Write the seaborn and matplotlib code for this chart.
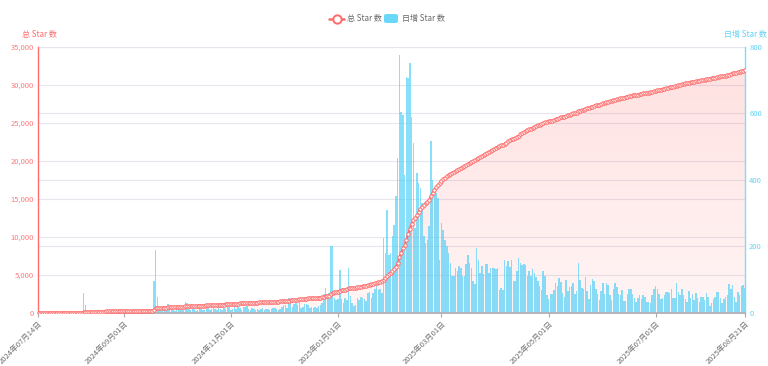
import numpy as np
import pandas as pd
import matplotlib
matplotlib.use("Agg")
import matplotlib.pyplot as plt
import seaborn as sns
from matplotlib.patches import Polygon, FancyBboxPatch
from matplotlib.lines import Line2D
from matplotlib.ticker import FixedLocator, FuncFormatter

# ---------------- data ----------------
start_date = "2024-07-14"

daily_stars = [
    # 2024-07-14 .. 2024-08-08
    0, 1, 0, 1, 2, 1, 0, 1, 1, 2, 1, 0, 1, 2, 1, 1, 0, 1, 2, 1, 1, 0, 2, 1, 1, 2,
    58, 24,
    6, 4, 3, 5, 4, 6, 3, 4, 5, 3, 4, 6, 5, 3, 4, 4, 5, 6, 3, 4,
    5, 4, 3, 6, 5, 4, 3, 5, 4, 6, 4, 3, 5, 4, 6, 5, 8, 12,
    96, 189, 48,
    8, 6, 10, 12, 9, 27, 20, 11, 8, 6, 9, 12, 10, 7, 9, 33, 30, 12, 8, 15,
    10, 6, 9, 14, 11, 8, 7, 12, 16, 9, 10, 13,
    12, 9, 14, 10, 8, 15, 11, 23, 18, 9,
    12, 16, 10, 23, 14, 9, 18, 17, 19, 11,
    8, 13, 10, 9, 12, 7, 10, 14, 9, 11,
    10, 8, 12, 13, 14, 12, 9, 11, 16, 23,
    22, 15, 45, 42, 18, 25, 30, 22, 30, 14,
    17, 26, 27, 24, 15, 16, 13, 18, 14, 20,
    23, 28, 55, 73, 48, 60, 200, 200, 43, 38, 42,
    128, 40, 30, 45, 38, 133, 50, 30, 20, 22,
    45, 38, 48, 43, 40, 35, 58, 63, 45, 60, 72, 80, 68,
    70, 60, 225, 180, 310, 175, 180, 230, 265, 350,
    465, 775, 605, 595, 415, 710, 705, 750, 590, 510,
    255, 420, 390, 375, 330, 230, 210, 220, 260, 515,
    400, 375, 360, 345, 160, 270, 250, 220, 200, 180,
    150, 110, 110, 135, 125, 140, 135, 110, 110, 145,
    175, 150, 135, 95, 85, 195, 160, 120, 140, 115,
    145, 145, 120, 135, 135, 135, 131, 135, 68,
    75, 68, 160, 140, 155, 138, 160, 95, 95, 126,
    165, 148, 142, 145, 143, 110, 125, 110, 130, 120,
    106, 96, 80, 68, 126, 110, 53,
    41, 56, 55, 68, 88, 80, 103, 93, 58, 46,
    98, 66, 76, 80, 88, 56, 66, 148, 98, 73,
    70, 106, 66, 41, 83, 100, 95, 70, 56, 38,
    66, 88, 56, 90, 83, 53, 38, 70, 88, 76,
    56, 53, 68, 36, 36, 56, 70, 70, 56, 43,
    33, 43, 53, 40, 53, 46, 33, 33, 30, 53,
    70, 80, 70, 56, 40, 43, 53, 61, 63, 60,
    70, 43, 43, 90, 63, 53, 70, 53, 40, 33,
    66, 43, 56, 38, 60, 43, 33, 46, 48, 38,
    58, 46, 20, 30, 40, 48, 63, 63, 43, 30,
    40, 48, 53, 86, 70, 83, 48, 33, 63, 53,
    80, 83, 75,
]

tick_dates = ["2024-07-14", "2024-09-01", "2024-11-01", "2025-01-01",
              "2025-03-01", "2025-05-01", "2025-07-01", "2025-08-21"]
total_ticks = [0, 5000, 10000, 15000, 20000, 25000, 30000, 35000]
daily_ticks = [0, 200, 400, 600, 800]

series_total = "总 Star 数"
series_daily = "日增 Star 数"

# ---------------- frame ----------------
dates = pd.date_range(start_date, periods=len(daily_stars), freq="D")
df = pd.DataFrame({"date": dates, "day": np.arange(len(daily_stars)),
                   "daily": daily_stars})
df["total"] = df["daily"].cumsum()

RED = "#ff6b6b"
CYAN = "#4fd0f7"
GRID = "#e6e6ee"

sns.set_theme(style="white")
plt.rcParams["font.family"] = ["Noto Sans CJK SC", "DejaVu Sans"]
plt.rcParams["axes.unicode_minus"] = False

W, H = 768, 366
fig = plt.figure(figsize=(W / 100, H / 100), dpi=100)
x0, x1, ytop, ybot = 38, 745, 46.7, 312.7
ax = fig.add_axes([x0 / W, 1 - ybot / H, (x1 - x0) / W, (ybot - ytop) / H])
ax2 = ax.twinx()

tmax = total_ticks[-1]
dmax = daily_ticks[-1]
scale = dmax / tmax
last = df["day"].iloc[-1]

# gridlines (both axes) on the back axes
for v in total_ticks[1:]:
    ax2.axhline(v * scale, color=GRID, lw=0.8, zorder=0)
for v in daily_ticks[1:]:
    ax2.axhline(v, color=GRID, lw=0.8, zorder=0)

# gradient area under the total line (drawn in ax2 units)
verts = [(0, 0)] + list(zip(df["day"], df["total"] * scale)) + [(last, 0)]
poly = Polygon(verts, closed=True, facecolor="none", edgecolor="none",
               transform=ax2.transData)
ax2.add_patch(poly)
grad = np.zeros((256, 1, 4))
grad[..., 0], grad[..., 1], grad[..., 2] = 1.0, 0.42, 0.42
grad[:, 0, 3] = np.linspace(0.2, 0.07, 256)
im = ax2.imshow(grad, extent=[0, last, 0, df["total"].max() * scale],
                aspect="auto", origin="upper", zorder=1, interpolation="bilinear")
im.set_clip_path(poly)

# daily bars
sns.barplot(data=df, x="day", y="daily", ax=ax2, native_scale=True,
            color=CYAN, alpha=0.68, width=0.86, saturation=1,
            errorbar=None, linewidth=0, zorder=2)

# total line
sns.lineplot(data=df, x="day", y="total", ax=ax, color=RED, lw=1.4,
             marker="o", markersize=2.5, markerfacecolor="white",
             markeredgecolor=RED, markeredgewidth=0.7, estimator=None,
             zorder=3)

ax.set_zorder(ax2.get_zorder() + 1)
ax.patch.set_visible(False)

for a in (ax, ax2):
    a.set_xlim(0, last)
    a.set_xlabel("")
    a.set_ylabel("")
ax.set_ylim(0, tmax)
ax2.set_ylim(0, dmax)

# y axes
ax.yaxis.set_major_locator(FixedLocator(total_ticks))
ax.yaxis.set_major_formatter(FuncFormatter(lambda v, p: f"{int(v):,}"))
ax.tick_params(axis="y", colors="#ff7a7a", labelsize=5.5, length=0, pad=3)
ax2.yaxis.set_major_locator(FixedLocator(daily_ticks))
ax2.tick_params(axis="y", colors="#62d3f5", labelsize=5.5, length=0, pad=3)

# x axis
tick_pos = [(pd.Timestamp(d) - pd.Timestamp(start_date)).days for d in tick_dates]
tick_lab = [pd.Timestamp(d).strftime("%Y年%m月%d日") for d in tick_dates]
ax.set_xticks(tick_pos)
ax.set_xticklabels(tick_lab, rotation=45, ha="right", va="top",
                   rotation_mode="anchor", color="#6e6e6e", fontsize=5.5)
ax.tick_params(axis="x", length=3, width=0.8, color="#aaaaaa", pad=2,
               bottom=True)
ax2.tick_params(axis="x", bottom=False, labelbottom=False)

for a in (ax, ax2):
    a.spines["top"].set_visible(False)
    a.spines["bottom"].set_color("#b3b3bb")
    a.spines["bottom"].set_linewidth(1.2)
ax.spines["left"].set_color(RED)
ax.spines["left"].set_linewidth(1.0)
ax.spines["right"].set_visible(False)
ax2.spines["left"].set_visible(False)
ax2.spines["right"].set_color("#7fdcf7")
ax2.spines["right"].set_linewidth(1.0)

# axis names
fig.text(39 / W, 1 - 34 / H, series_total, color=RED, fontsize=5.8,
         ha="center", va="center")
fig.text(745 / W, 1 - 34 / H, series_daily, color="#62d3f5", fontsize=5.8,
         ha="center", va="center")

# legend (manual)
ly = 1 - 18.5 / H
fig.add_artist(Line2D([329 / W, 344 / W], [ly, ly], color=RED, lw=1.8,
                      transform=fig.transFigure))
fig.add_artist(Line2D([336.5 / W], [ly], marker="o", markersize=6,
                      markerfacecolor="white", markeredgecolor=RED,
                      markeredgewidth=1.4, transform=fig.transFigure))
fig.text(347 / W, ly, series_total, color="#666666", fontsize=5.8,
         ha="left", va="center")
fig.add_artist(FancyBboxPatch((384 / W, 1 - 23 / H), 14 / W, 9 / H,
                              boxstyle="round,pad=0,rounding_size=0.004",
                              facecolor="#6ad9f9", edgecolor="none",
                              transform=fig.transFigure))
fig.text(402 / W, ly, series_daily, color="#666666", fontsize=5.8,
         ha="left", va="center")

fig.savefig("out.png", dpi=100)
